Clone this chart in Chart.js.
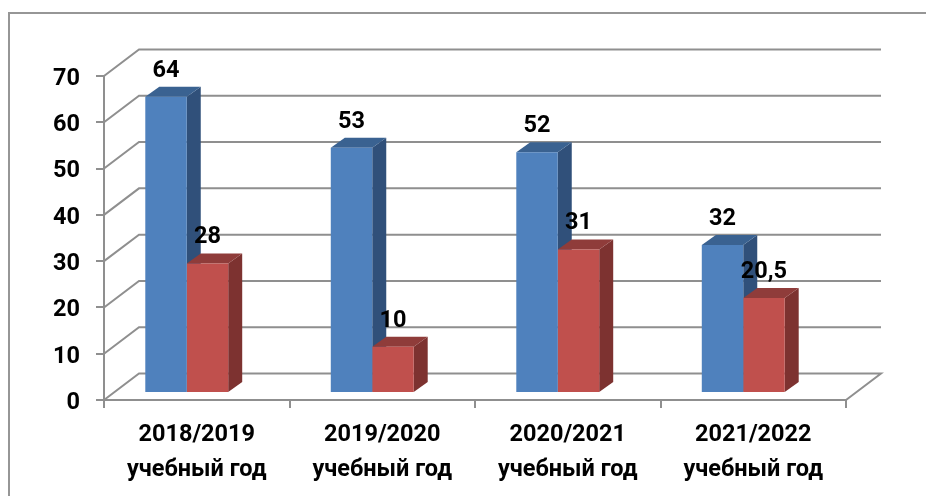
<!DOCTYPE html>
<html lang="ru">
<head>
<meta charset="utf-8">
<title>Chart</title>
<script src="https://cdn.jsdelivr.net/npm/chart.js@4"></script>
<style>
  html, body { margin: 0; padding: 0; background: #fff; overflow: hidden; }
  #frame { position: absolute; left: 8px; top: 12px; width: 930px; height: 500px; border-left: 2px solid #969696; border-top: 2px solid #969696; }
  #chart { position: absolute; left: 0; top: 0; }
</style>
</head>
<body>
<div id="frame"></div>
<canvas id="chart" width="926" height="496"></canvas>
<script>
// --- data ---
const categories = [
    ['2018/2019', 'учебный год'],
    ['2019/2020', 'учебный год'],
    ['2020/2021', 'учебный год'],
    ['2021/2022', 'учебный год']
];
const seriesBlue = [64, 53, 52, 32];
const seriesRed = [28, 10, 31, 20.5];
const yTicks = [0, 10, 20, 30, 40, 50, 60, 70];

// --- look ---
const gridColor = '#8f8f8f';
const fontFamily = 'Roboto, sans-serif';
const wallDx = 35, wallDy = 26.5;   // back wall offset from the front axes
const barShiftX = -10, barShiftY = -7; // bars stand a bit inside the box
const barDx = 14, barDy = 10;       // bar depth
const yLabelShift = 3;              // y labels sit a little under their ticks
const faces = [
    { top: '#3a6291', side: '#30507a' },
    { top: '#8f3c3a', side: '#7d3230' }
];

function poly(ctx, pts, fill) {
    ctx.beginPath();
    pts.forEach((p, i) => i ? ctx.lineTo(p[0], p[1]) : ctx.moveTo(p[0], p[1]));
    ctx.closePath();
    ctx.fillStyle = fill;
    ctx.fill();
}

// walls and floor behind the bars, then the depth faces of the bars
const box3d = {
    id: 'box3d',
    afterLayout(chart) {
        const y = chart.scales.y, drawLabels = y.drawLabels;
        y.drawLabels = function (area) {
            chart.ctx.save();
            chart.ctx.translate(0, yLabelShift);
            drawLabels.call(this, area);
            chart.ctx.restore();
        };
    },
    beforeDatasetsDraw(chart) {
        const ctx = chart.ctx, a = chart.chartArea, y = chart.scales.y;
        ctx.save();
        ctx.strokeStyle = gridColor;
        ctx.lineWidth = 2;
        y.ticks.forEach((t, i) => {
            const py = y.getPixelForTick(i);
            ctx.beginPath();
            ctx.moveTo(a.left, py);
            ctx.lineTo(a.left + wallDx, py - wallDy);
            ctx.lineTo(a.right + wallDx, py - wallDy);
            if (t.value === 0) ctx.lineTo(a.right, py);
            ctx.stroke();
        });
        ctx.restore();

        ctx.save();
        ctx.translate(barShiftX, barShiftY);
        chart.data.datasets.forEach((ds, di) => {
            chart.getDatasetMeta(di).data.forEach(bar => {
                const l = bar.x - bar.width / 2, r = bar.x + bar.width / 2;
                poly(ctx, [[r, bar.y], [r + barDx, bar.y - barDy], [r + barDx, bar.base - barDy], [r, bar.base]], faces[di].side);
                poly(ctx, [[l, bar.y], [l + barDx, bar.y - barDy], [r + barDx, bar.y - barDy], [r, bar.y]], faces[di].top);
            });
        });
        // front faces come from the library, moved into the same plane
    },
    afterDatasetsDraw(chart) {
        const ctx = chart.ctx;
        ctx.font = 'bold 23.5px ' + fontFamily;
        ctx.fillStyle = '#000';
        ctx.textAlign = 'center';
        ctx.textBaseline = 'middle';
        chart.data.datasets.forEach((ds, di) => {
            chart.getDatasetMeta(di).data.forEach((bar, i) => {
                ctx.fillText(String(ds.data[i]).replace('.', ','), bar.x, bar.y - 26);
            });
        });
        ctx.restore();
    }
};

new Chart(document.getElementById('chart'), {
    type: 'bar',
    data: {
        labels: categories,
        datasets: [
            { data: seriesBlue, backgroundColor: '#4f81bd', clip: false },
            { data: seriesRed, backgroundColor: '#c0504d', clip: false }
        ]
    },
    plugins: [box3d],
    options: {
        responsive: false,
        animation: false,
        layout: { padding: { top: 76, right: 80, left: 0, bottom: 0 } },
        plugins: { legend: { display: false }, tooltip: { enabled: false } },
        datasets: { bar: { categoryPercentage: 0.447, barPercentage: 1 } },
        scales: {
            x: {
                afterFit(s) { s.height = 96; },
                border: { color: gridColor, width: 2 },
                grid: { drawOnChartArea: false, color: gridColor, lineWidth: 2, tickLength: 8, offset: true },
                ticks: {
                    color: '#000', padding: 10, maxRotation: 0, autoSkip: false,
                    font: { family: fontFamily, size: 23.5, weight: 'bold', lineHeight: '35px' }
                }
            },
            y: {
                min: yTicks[0],
                max: yTicks[yTicks.length - 1],
                afterFit(s) { s.width = 104; },
                afterBuildTicks(s) { s.ticks = yTicks.map(v => ({ value: v })); },
                border: { color: gridColor, width: 2 },
                grid: { drawOnChartArea: false, color: gridColor, lineWidth: 2, tickLength: 8 },
                ticks: {
                    color: '#000', padding: 16,
                    font: { family: fontFamily, size: 23.5, weight: 'bold' }
                }
            }
        }
    }
});
</script>
</body>
</html>
